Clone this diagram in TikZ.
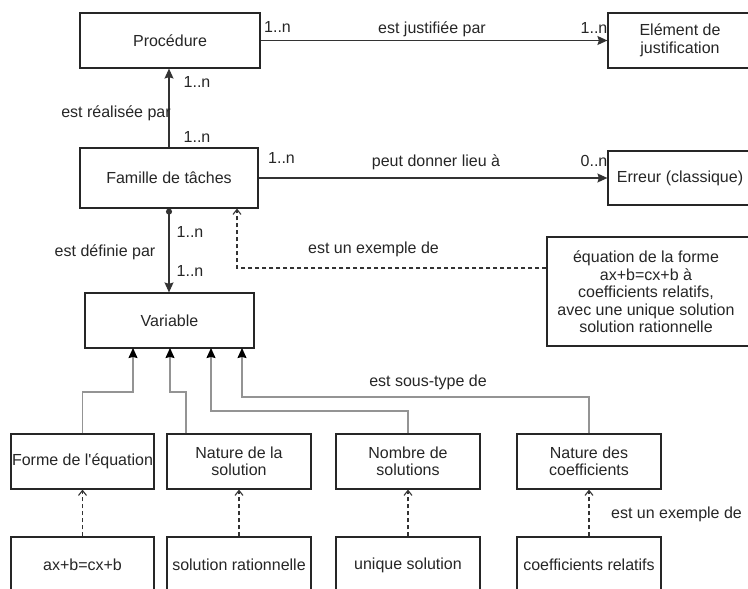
\documentclass[tikz,border=0pt]{standalone}
\usepackage{fontspec}
\setmainfont{Liberation Sans}
\usetikzlibrary{arrows.meta}
\begin{document}
\begin{tikzpicture}[x=1pt,y=-1pt,
  font=\fontsize{16}{17.5}\selectfont,
  box/.style={draw=black!85, line width=1.2pt, align=center, inner sep=0pt, text=black!85},
  lab/.style={anchor=base, inner sep=0pt, text=black!85},
  assoc/.style={draw=black!80, line width=1.2pt, -{Stealth[length=10pt,width=9pt,inset=1.5pt]}},
  gen/.style={draw=black!42, line width=1.1pt, -{Stealth[length=10pt,width=9pt,inset=1pt,color=black]}},
  dep/.style={draw=black!80, line width=1.1pt, dash pattern=on 4pt off 3pt, -{Straight Barb[length=5pt,width=8pt]}}]
\useasboundingbox (0,0) rectangle (748,589);
\clip (0,0) rectangle (748,589);
\fill[white] (0,0) rectangle (748,589);

% main boxes
\node[box, minimum width=180pt, minimum height=55pt] (proc) at (170,40.5) {Procédure};
\node[box, minimum width=144pt, minimum height=55pt] (elem) at (680,40.5) {Elément de\\justification};
\node[box, minimum width=178pt, minimum height=60pt] (fam) at (169,178) {Famille de tâches};
\node[box, minimum width=144pt, minimum height=54pt] (err) at (680,178) {Erreur (classique)};
\node[box, minimum width=169pt, minimum height=55pt] (var) at (169.5,320.5) {Variable};
\node[box, minimum width=205pt, minimum height=109pt] (note) at (649.5,291.5) {};
\node[inner sep=0pt, align=center, text=black!85] (notetxt) at (646,292) {équation de la forme\\ax+b=cx+b à\\coefficients relatifs,\\avec une unique solution\\solution rationnelle};

% row 1
\node[box, minimum width=143pt, minimum height=55pt] (forme) at (82.5,461.5) {Forme de l\textquotesingle équation};
\node[box, minimum width=144pt, minimum height=55pt] (natsol) at (239,461.5) {Nature de la\\solution};
\node[box, minimum width=144pt, minimum height=55pt] (nomb) at (408,461.5) {Nombre de\\solutions};
\node[box, minimum width=144pt, minimum height=55pt] (coef) at (589,461.5) {Nature des\\coefficients};

% row 2
\node[box, minimum width=143pt, minimum height=56pt] (ex1) at (82.5,565) {ax+b=cx+b};
\node[box, minimum width=144pt, minimum height=56pt] (ex2) at (239,565) {solution rationnelle};
\node[box, minimum width=144pt, minimum height=56pt] (ex3) at (408,565) {unique solution};
\node[box, minimum width=144pt, minimum height=56pt] (ex4) at (589,565) {coefficients relatifs};

% associations
\draw[assoc] (proc.east) -- (elem.west);
\draw[assoc] (fam.north) -- (fam.north |- proc.south);
\draw[assoc] (fam.east) -- (err.west);
\draw[assoc, {Circle[length=6pt]}-{Stealth[length=10pt,width=9pt,inset=1.5pt]}] (fam.south) -- (fam.south |- var.north);

% dependency from note
\coordinate (d1) at (237,268);
\draw[dep] (note.west |- d1) -| (d1 |- fam.south);

% generalisations
\coordinate (g1) at (133,392);
\coordinate (g2a) at (186,392);
\coordinate (g3) at (211,411);
\coordinate (g4) at (242,397);
\coordinate (v1) at (133,348);
\coordinate (v2) at (170,348);
\coordinate (v3) at (211,348);
\coordinate (v4) at (242,348);
\draw[gen] (forme.north) |- (g1) -- (v1);
\draw[gen] (g2a |- natsol.north) -- (g2a) -| (v2);
\draw[gen] (nomb.north) |- (g3) -- (v3);
\draw[gen] (coef.north) |- (g4) -- (v4);

% example dependencies
\draw[dep] (ex1.north) -- (forme.south);
\draw[dep] (ex2.north) -- (natsol.south);
\draw[dep] (ex3.north) -- (nomb.south);
\draw[dep] (ex4.north) -- (coef.south);

% labels
\node[lab] (l1) at (277.5,32) {1..n};
\node[lab] (l2) at (432,34) {est justifiée par};
\node[lab] (l3) at (594,33) {1..n};
\node[lab] (l4) at (197,87) {1..n};
\node[lab] (l5) at (116,117) {est réalisée par};
\node[lab] (l6) at (197,142) {1..n};
\node[lab] (l7) at (281.5,163) {1..n};
\node[lab] (l8) at (436,166) {peut donner lieu à};
\node[lab] (l9) at (594,166) {0..n};
\node[lab] (l10) at (190,237) {1..n};
\node[lab] (l11) at (105,256) {est définie par};
\node[lab] (l12) at (190,276) {1..n};
\node[lab] (l13) at (373.5,253) {est un exemple de};
\node[lab] (l14) at (428,386) {est sous-type de};
\node[lab] (l15) at (676.5,518) {est un exemple de};
\end{tikzpicture}
\end{document}
